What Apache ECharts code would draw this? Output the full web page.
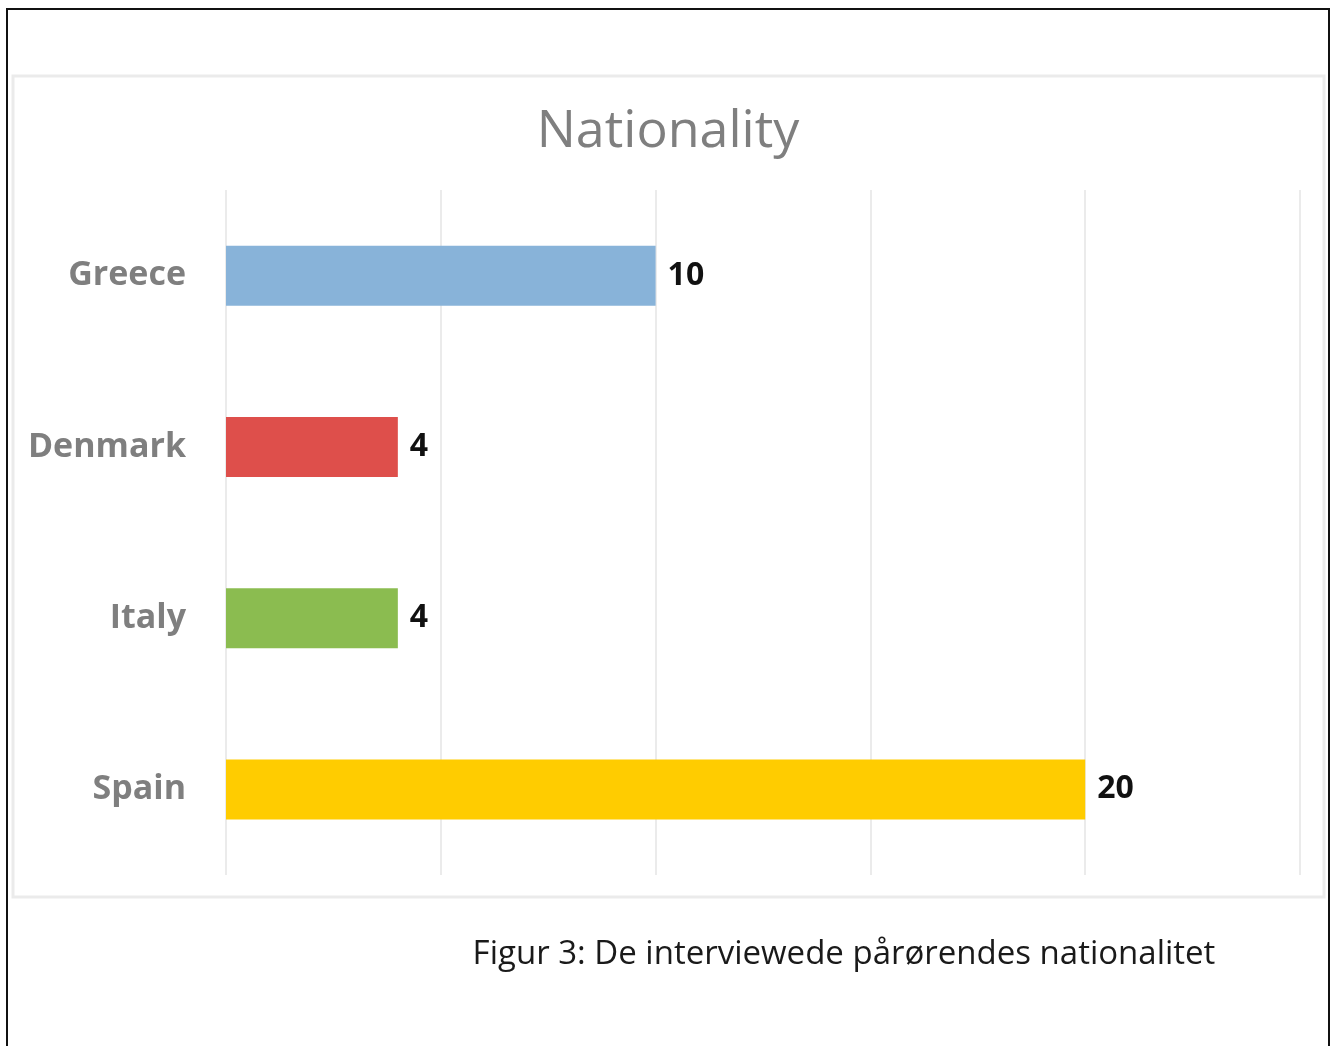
<!DOCTYPE html>
<html>
<head>
<meta charset="utf-8">
<script src="https://cdn.jsdelivr.net/npm/echarts@6/dist/echarts.min.js"></script>
<style>
html,body{margin:0;padding:0;background:#fff;}
#c{width:1336px;height:1046px;}
</style>
</head>
<body>
<div id="c"></div>
<script>
const categories = ["Greece", "Denmark", "Italy", "Spain"];
const values = [10, 4, 4, 20];
const barColors = ["#88b3d9", "#de4f4b", "#8bbc50", "#ffcc00"];
const chartTitle = "Nationality";
const caption = "Figur 3: De interviewede pårørendes nationalitet";

const chart = echarts.init(document.getElementById('c'), null, {renderer: 'canvas'});
chart.setOption({
  backgroundColor: '#ffffff',
  animation: false,
  title: [{
    text: chartTitle,
    left: 663, top: 101, textAlign: 'center',
    textStyle: {fontFamily: 'Open Sans', fontSize: 52, fontWeight: 'normal', color: '#7f7f7f'}
  }, {
    text: caption,
    left: 839, top: 933, textAlign: 'center',
    textStyle: {fontFamily: 'Open Sans', fontSize: 33, fontWeight: 'normal', color: '#1a1a1a'}
  }],
  graphic: [
    {type: 'rect', shape: {x: 7, y: 9, width: 1322, height: 1100}, style: {fill: 'none', stroke: '#111', lineWidth: 2}, z: 100},
    {type: 'rect', shape: {x: 13, y: 76, width: 1311, height: 821}, style: {fill: 'none', stroke: '#ebebeb', lineWidth: 3}, z: 100}
  ],
  grid: {left: 226, right: 36, top: 190, height: 685, containLabel: false},
  xAxis: {
    type: 'value', min: 0, max: 25, interval: 5,
    axisLabel: {show: false}, axisLine: {show: false}, axisTick: {show: false},
    splitLine: {show: true, lineStyle: {color: '#ebebeb', width: 2}}
  },
  yAxis: {
    type: 'category', data: categories, inverse: true,
    axisLine: {show: false}, axisTick: {show: false},
    axisLabel: {margin: 40, fontFamily: 'Open Sans', fontSize: 34, fontWeight: 'bold', color: '#7f7f7f', padding: [8, 0, 0, 0]}
  },
  series: [{
    type: 'bar',
    data: values.map((v, i) => ({value: v, itemStyle: {color: barColors[i]}})),
    barWidth: 60,
    label: {show: true, position: 'right', distance: 12, fontFamily: 'Open Sans', fontSize: 32, fontWeight: 'bold', color: '#111', padding: [10, 0, 0, 0]}
  }]
});
</script>
</body>
</html>
